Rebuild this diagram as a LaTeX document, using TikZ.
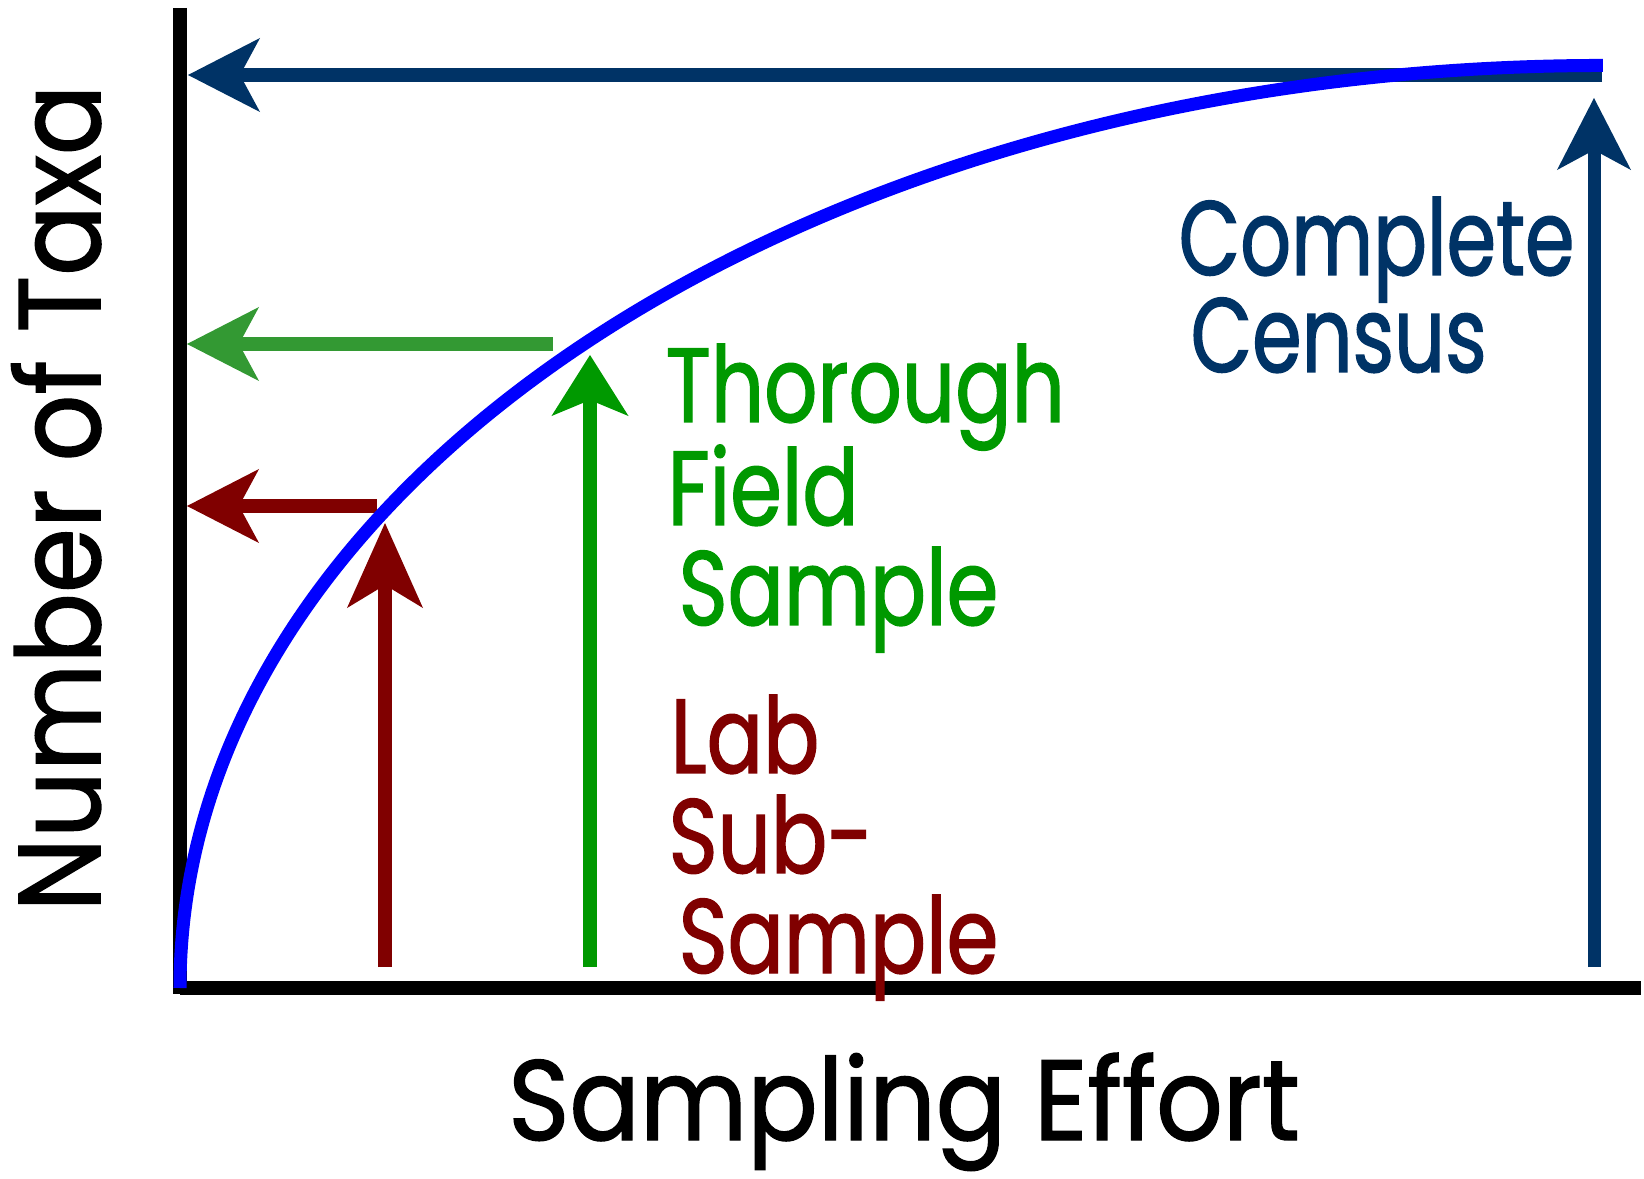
\documentclass[tikz,border=0pt]{standalone}
\usepackage{fontspec}
\usetikzlibrary{arrows.meta}
\newfontfamily\comicA[FakeStretch=0.79,FakeBold=1.3]{Poppins}
\newfontfamily\comicC[FakeStretch=0.755,FakeBold=1.3]{Poppins}
\newfontfamily\comicB[FakeStretch=0.9,FakeBold=1.3]{Poppins}
\newfontfamily\comicD[FakeStretch=0.915,FakeBold=1.3]{Poppins}
\definecolor{navy}{RGB}{0,51,102}
\definecolor{gtext}{RGB}{0,153,0}
\definecolor{glight}{RGB}{51,153,51}
\definecolor{dred}{RGB}{128,0,0}
\tikzset{
  axisline/.style={line width=0.13cm, black},
  shaft/.style={line width=0.13cm},
  tipa/.style={-{Stealth[length=0.72cm,width=0.74cm,inset=0.2cm,line width=0pt]}},
  tipb/.style={-{Stealth[length=0.85cm,width=0.76cm,inset=0.23cm,line width=0pt]}},
  tipc/.style={-{Stealth[length=0.61cm,width=0.77cm,inset=0.16cm,line width=0pt]}},
  lbl/.style={inner sep=0pt, anchor=base west, font=\comicA\fontsize{30}{30}\selectfont},
  nlbl/.style={inner sep=0pt, anchor=base west, font=\comicC\fontsize{30}{30}\selectfont},
  axlbl/.style={inner sep=0pt, anchor=base, font=\comicB\fontsize{33}{33}\selectfont},
  xlbl/.style={inner sep=0pt, anchor=base, font=\comicD\fontsize{32.4}{33}\selectfont}
}
\begin{document}
\begin{tikzpicture}[x=0.01cm,y=-0.01cm]
\useasboundingbox (0,0) rectangle (1644,1179);
% axes
\coordinate (ytop) at (180,8);
\coordinate (orig) at (180,988);
\coordinate (xend) at (1641,988);
\draw[axisline] (ytop) -- (180,994);
\draw[axisline] (orig) -- (xend);
% arrows
\coordinate (nh0) at (1602,75); \coordinate (nh1) at (188,75);
\coordinate (nv0) at (1594,967); \coordinate (nv1) at (1594,98);
\coordinate (gh0) at (553,344); \coordinate (gh1) at (187,344);
\coordinate (gv0) at (590,967); \coordinate (gv1) at (590,355);
\coordinate (rh0) at (377,506); \coordinate (rh1) at (187,506);
\coordinate (rv0) at (385,967); \coordinate (rv1) at (385,523);
\draw[shaft, navy, tipa] (nh0) -- (nh1);
\draw[shaft, navy, tipa] (nv0) -- (nv1);
\draw[shaft, glight, tipa] (gh0) -- (gh1);
\draw[shaft, gtext, tipc] (gv0) -- (gv1);
\draw[shaft, dred, tipa] (rh0) -- (rh1);
\draw[shaft, dred, tipb] (rv0) -- (rv1);
% curve
\draw[line width=0.13cm, blue] (orig) arc[start angle=180, end angle=90, x radius=14.22cm, y radius=9.22cm];
% labels
\node[nlbl, navy] (c1) at (1178,275) {Complete};
\node[nlbl, navy] (c2) at (1190,372) {Census};
\node[lbl, gtext] (t1) at (665,422) {Thorough};
\node[lbl, gtext] (t2) at (667,525) {Field};
\node[lbl, gtext] (t3) at (678,625) {Sample};
\node[lbl, dred] (l1) at (670,773) {Lab};
\node[lbl, dred] (l2) at (668,873) {Sub-};
\node[lbl, dred] (l3) at (678,973) {Sample};
\node[xlbl] (xl) at (904,1140) {Sampling Effort};
\node[axlbl, rotate=90] (yl) at (100,498) {Number of Taxa};
\end{tikzpicture}
\end{document}
